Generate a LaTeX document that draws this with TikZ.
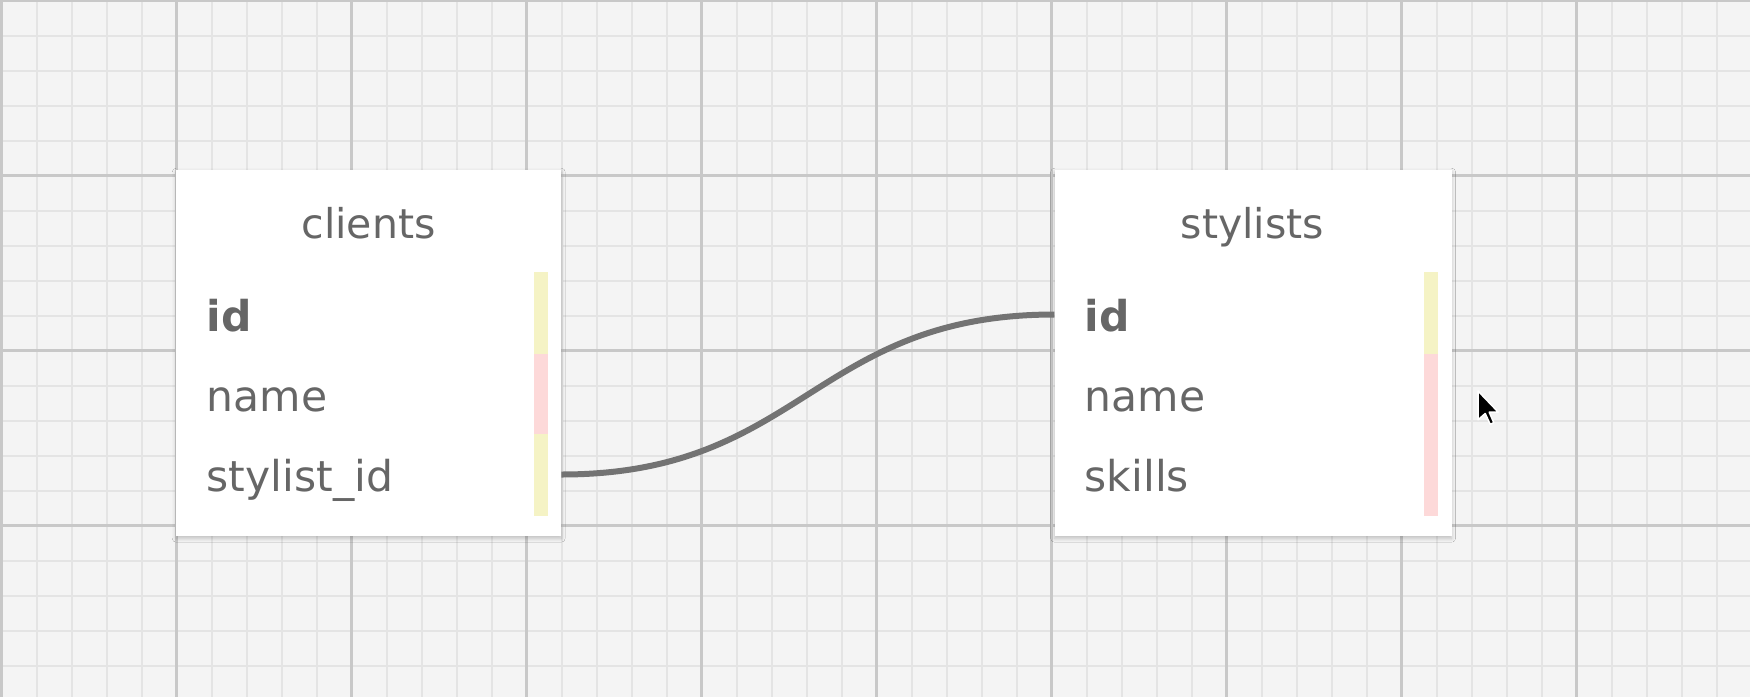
\documentclass[tikz,border=0pt]{standalone}
\usepackage{fontspec}
\setmainfont{DejaVu Sans}
\usetikzlibrary{positioning,shadows.blur}

\definecolor{gridbg}{HTML}{F4F4F4}
\definecolor{gridminor}{HTML}{E4E4E4}
\definecolor{gridmajor}{HTML}{C8C8C8}
\definecolor{fieldgray}{HTML}{666666}
\definecolor{linegray}{HTML}{737373}
\definecolor{keyyellow}{HTML}{F5F3C5}
\definecolor{keypink}{HTML}{FDD9D9}

\begin{document}
\begin{tikzpicture}[x=1pt, y=-1pt, node distance=493pt,
		minor line/.style={draw=gridminor, line width=2pt},
		major line/.style={draw=gridmajor, line width=3pt},
		table box/.style={fill=white, inner sep=0pt, minimum height=366pt, anchor=north west,
			blur shadow={shadow xshift=0pt, shadow yshift=-2pt, shadow blur radius=4pt, shadow opacity=22}},
		table title/.style={text=fieldgray, font=\fontsize{41pt}{49pt}\selectfont, inner sep=0pt, anchor=base},
		field/.style={table title, anchor=base west, font=\fontsize{42.5pt}{50pt}\selectfont},
		key field/.style={field, font=\fontsize{42.5pt}{50pt}\selectfont\bfseries},
		ref line/.style={draw=linegray, line width=6pt}]
		
		\useasboundingbox[fill=gridbg] (0,0) rectangle (1750,697);
		
		% grid
		\foreach \i in {0,...,50} \draw[minor line] (1.5+35*\i,0) -- (1.5+35*\i,697);
		\foreach \j in {0,...,20} \draw[minor line] (0,0.5+35*\j) -- (1750,0.5+35*\j);
		\foreach \i in {0,...,10} \draw[major line] (1.5+175*\i,0) -- (1.5+175*\i,697);
		\foreach \j in {0,...,4} \draw[major line] (0,0.5+175*\j) -- (1750,0.5+175*\j);
		
		% tables
		\node[table box, minimum width=385pt] (clients) at (176,170) {};
		\node[table box, minimum width=397pt, right=of clients] (stylists) {};
		
		\node[table title] (c-title) at (368.5,238) {clients};
		\node[key field] (c-id) at (206.5,331) {id};
		\node[field] (c-name) at (206.5,411) {name};
		\node[field] (c-stylist) at (206.5,491) {stylist\_id};
		
		\node[table title] (s-title) at (1252.5,238) {stylists};
		\node[key field] (s-id) at (1084.5,331) {id};
		\node[field] (s-name) at (1084.5,411) {name};
		\node[field] (s-skills) at (1084.5,491) {skills};
		
		% key bars
		\fill[keyyellow] (534,272) rectangle (548,354);
		\fill[keypink] (534,354) rectangle (548,434);
		\fill[keyyellow] (534,434) rectangle (548,516);
		\fill[keyyellow] (1424,272) rectangle (1438,354);
		\fill[keypink] (1424,354) rectangle (1438,516);
		
		\draw[ref line] ([yshift=16.5pt]clients.east |- c-stylist.base) .. controls +(240,0) and +(-240,0) .. ([yshift=16.5pt]stylists.west |- s-id.base);
		
		% pointer
		\filldraw[fill=black, draw=white, line width=1.5pt, line join=round]
		(1478,391) -- ++(0,28.8) -- ++(7.2,-6.3) -- ++(5,10.8) -- ++(3.6,-1.6)
		-- ++(-4.6,-10.5) -- ++(9.1,0) -- cycle;
\end{tikzpicture}
\end{document}
